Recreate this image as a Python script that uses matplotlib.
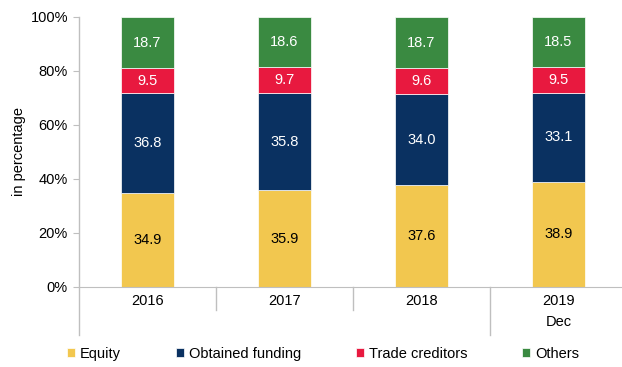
import matplotlib.pyplot as plt
import numpy as np

plt.rcParams['font.family'] = ['Liberation Sans', 'DejaVu Sans']

years = ['2016', '2017', '2018', '2019\nDec']
equity = [34.9, 35.9, 37.6, 38.9]
funding = [36.8, 35.8, 34.0, 33.1]
trade = [9.5, 9.7, 9.6, 9.5]
others = [18.7, 18.6, 18.7, 18.5]

series = [('Equity', equity, '#F2C74F', 'black'),
          ('Obtained funding', funding, '#0A3161', 'white'),
          ('Trade creditors', trade, '#E8193F', 'white'),
          ('Others', others, '#3A8A41', 'white')]

fig = plt.figure(figsize=(6.22, 3.67), dpi=100)
ax = fig.add_axes([79/622, 1-287/367, 548/622, 270/367])

x = np.arange(len(years))
bottom = np.zeros(len(years))
handles = []
for name, vals, col, tcol in series:
    vals = np.array(vals)
    b = ax.bar(x, vals, 0.39, bottom=bottom, color=col, label=name,
               edgecolor='white', linewidth=0.5)
    handles.append(b)
    for xi, v, bt in zip(x, vals, bottom):
        ax.text(xi, bt + v/2, f'{v:.1f}', ha='center', va='center',
                color=tcol, fontsize=10.5)
    bottom += vals

ax.set_xlim(-0.5, 3.5)
ax.set_ylim(0, 100)
ax.set_yticks(np.arange(0, 101, 20))
ax.set_yticklabels([f'{v}%' for v in range(0, 101, 20)], fontsize=10.5)
ax.set_ylabel('in percentage', fontsize=10.5, labelpad=3)

ax.set_xticks(x)
ax.set_xticklabels(years, fontsize=10.5, linespacing=1.6, va='top')
ax.tick_params(axis='x', length=0, pad=5)
ax.tick_params(axis='y', length=4, color='#BFBFBF', pad=4)

for s in ['top', 'right', 'left']:
    ax.spines[s].set_visible(False)
ax.spines['bottom'].set_color('#BFBFBF')

# y axis line plus category separators running below the axis
ax.axvline(-0.5, ymin=-0.178, ymax=1, color='#BFBFBF', lw=1, clip_on=False)
for xs in [0.5, 1.5]:
    ax.axvline(xs, ymin=-0.085, ymax=0, color='#BFBFBF', lw=1, clip_on=False)
ax.axvline(2.5, ymin=-0.178, ymax=0, color='#BFBFBF', lw=1, clip_on=False)

fig.legend(handles=handles, loc='center left', bbox_to_anchor=(67/622, 1-354/367),
           ncol=4, frameon=False, fontsize=10.5, handlelength=0.55,
           handleheight=0.55, handletextpad=0.35, columnspacing=3.75,
           borderaxespad=0, borderpad=0)

fig.savefig('out.png', dpi=100)
